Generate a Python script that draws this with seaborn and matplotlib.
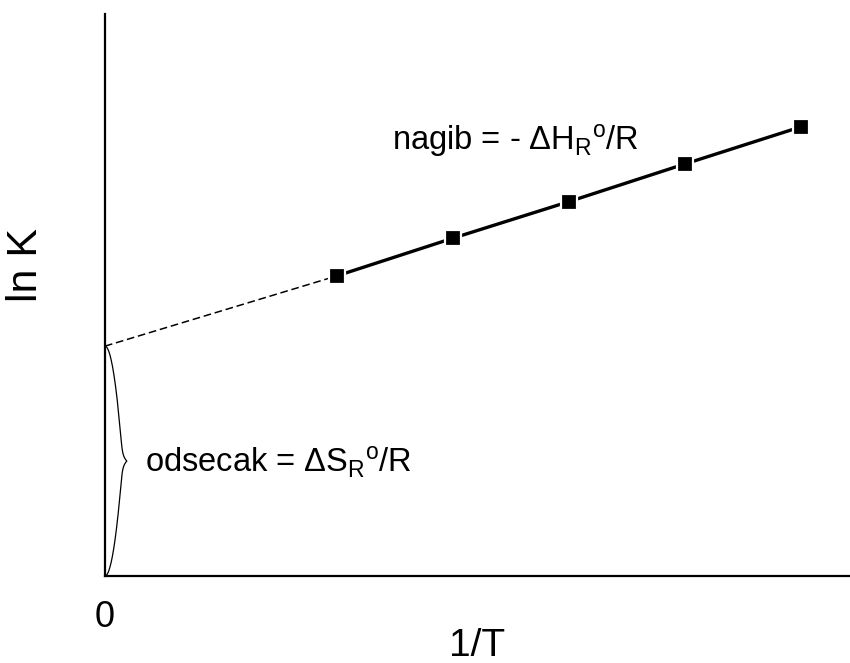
import numpy as np
import pandas as pd
import matplotlib
matplotlib.use("Agg")
import matplotlib.pyplot as plt
import seaborn as sns

# Datos (unidades arbitrarias)
inv_T = [1.5, 2.25, 3.0, 3.75, 4.5]
ln_K = [5.34, 6.01, 6.66, 7.33, 7.99]
odsecak = 4.09          # ln K en 1/T = 0
x_max = 4.82
y_max = 10.0

tekst_nagib = r"nagib = - $\Delta\mathrm{H}_\mathrm{R}{}^\mathrm{o}$/R"
tekst_odsecak = r"odsecak = $\Delta\mathrm{S}_\mathrm{R}{}^\mathrm{o}$/R"


def crear_grafico():
    sns.set_theme(style="white")
    plt.rcParams["font.family"] = ["Liberation Sans", "DejaVu Sans"]
    plt.rcParams["mathtext.fontset"] = "custom"
    plt.rcParams["mathtext.rm"] = "Liberation Sans"
    plt.rcParams["mathtext.it"] = "Liberation Sans"
    plt.rcParams["mathtext.bf"] = "Liberation Sans:bold"
    plt.rcParams["text.color"] = "black"
    plt.rcParams["axes.labelcolor"] = "black"
    plt.rcParams["xtick.color"] = "black"

    fig = plt.figure(figsize=(8.5, 6.63), dpi=100)
    ax = fig.add_axes([0.1235, 0.1312, 0.8765, 0.8477])

    tabla = pd.DataFrame({"1/T": inv_T, "ln K": ln_K})

    # Extrapolacion hasta el eje y (linea discontinua)
    extra = pd.DataFrame({"1/T": [0, inv_T[0]], "ln K": [odsecak, ln_K[0]]})
    sns.lineplot(data=extra, x="1/T", y="ln K", ax=ax, color="black",
                 lw=1.1, linestyle=(0, (5, 2.5)))

    # Puntos medidos
    sns.lineplot(data=tabla, x="1/T", y="ln K", ax=ax, color="black", lw=2.4,
                 marker="s", markersize=12, markerfacecolor="black",
                 markeredgecolor="white", markeredgewidth=1.6)

    # Llave (brace) desde 0 hasta el odsecak
    ancho = 0.15 * x_max / 4.82
    s = np.linspace(0, 1, 200)
    mitad = 0.93 * np.sqrt(s) * ancho * 0.83 + ancho * 0.17 * s ** 25
    ys = np.concatenate([s * odsecak / 2, odsecak - s[::-1] * odsecak / 2])
    xs = np.concatenate([mitad, mitad[::-1]])
    ax.plot(xs, ys, color="black", lw=0.9)

    ax.text(1.855, 7.58, tekst_nagib, fontsize=23.5, color="black",
            ha="left", va="baseline")
    ax.text(0.259, 1.85, tekst_odsecak, fontsize=23.5, color="black",
            ha="left", va="baseline")

    ax.set_xlim(0, x_max)
    ax.set_ylim(0, y_max)
    ax.set_xticks([0])
    ax.set_xticklabels(["0"])
    ax.set_yticks([])
    ax.tick_params(axis="x", length=0, pad=17, labelsize=26)

    ax.set_xlabel("1/T", fontsize=28)
    ax.xaxis.set_label_coords(0.5, -0.093)
    ax.xaxis.label.set_va("top")
    ax.set_ylabel("ln K", fontsize=31)
    ax.yaxis.set_label_coords(-0.079, 0.553)

    sns.despine(ax=ax)
    for lado in ["left", "bottom"]:
        ax.spines[lado].set_linewidth(1.6)
        ax.spines[lado].set_color("black")

    fig.savefig("out.png", dpi=100)


crear_grafico()
